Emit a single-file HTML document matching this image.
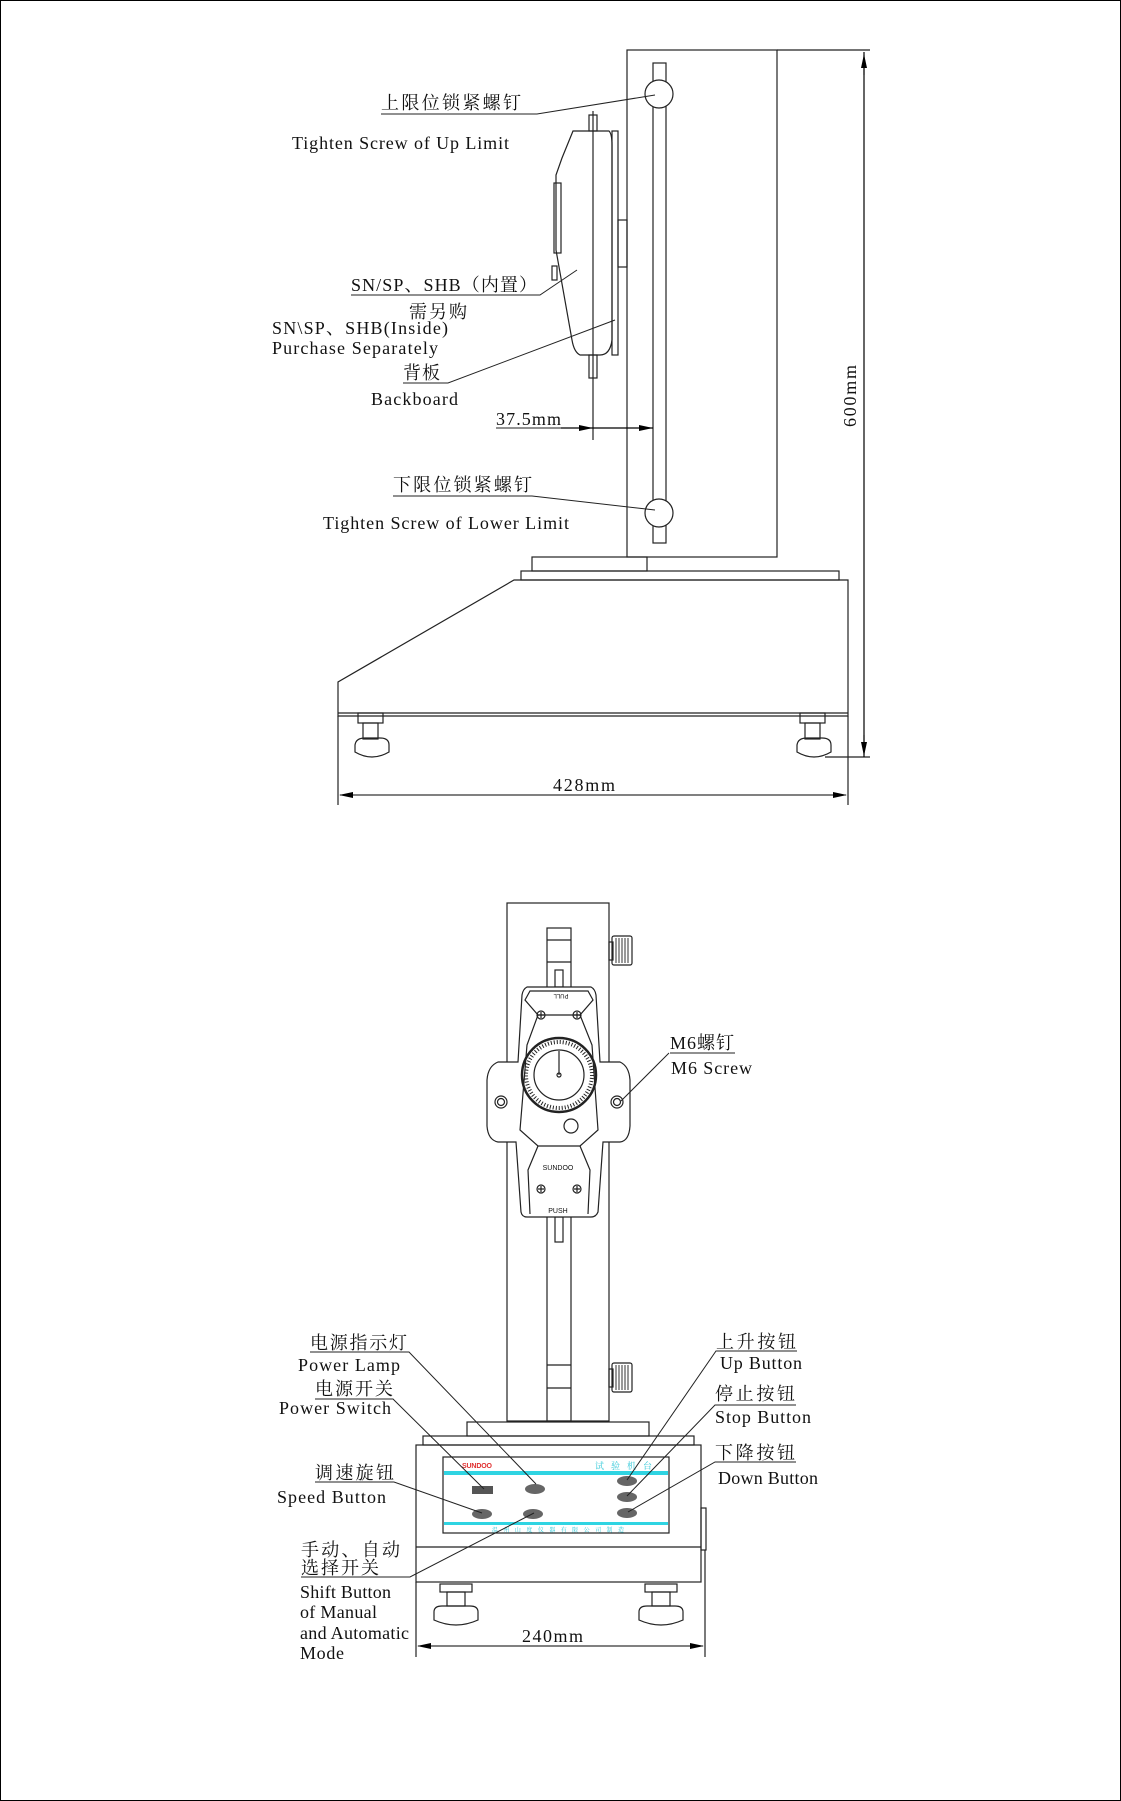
<!DOCTYPE html>
<html><head><meta charset="utf-8"><style>
html,body{margin:0;padding:0;background:#fff;}
svg{display:block;}
text{font-family:"Liberation Serif","Noto Serif CJK SC","Noto Sans CJK SC",serif;fill:#111;}
</style></head><body>
<svg width="1121" height="1801" viewBox="0 0 1121 1801" xmlns="http://www.w3.org/2000/svg">
<defs>
<marker id="ar" markerWidth="14" markerHeight="6" refX="13" refY="3" orient="auto" markerUnits="userSpaceOnUse"><path d="M0,0 L14,3 L0,6 Z" fill="#000"/></marker>
<marker id="as" markerWidth="14" markerHeight="6" refX="1" refY="3" orient="auto" markerUnits="userSpaceOnUse"><path d="M14,0 L0,3 L14,6 Z" fill="#000"/></marker>
</defs>
<rect x="0.5" y="0.5" width="1120" height="1800" fill="#fff" stroke="#000" stroke-width="1"/>
<g fill="none" stroke="#222" stroke-width="1.2">
<rect x="627" y="50" width="150" height="507"/>
<line x1="777" y1="50" x2="870" y2="50"/>
<rect x="653" y="63" width="13" height="480"/>
<circle cx="659" cy="94" r="14" fill="#fff"/>
<circle cx="659" cy="513" r="14" fill="#fff"/>
<rect x="532" y="557" width="115" height="14"/>
<rect x="521" y="571" width="318" height="9"/>
<path d="M514,580 L848,580 L848,716 L338,716 L338,682 Z"/>
<line x1="338" y1="713" x2="848" y2="713"/>
<g>
<rect x="358" y="713" width="25" height="10"/><rect x="363" y="723" width="15" height="16"/>
<path d="M355,745 Q356,738 365,738 L380,738 Q389,738 389,745 L389,752 Q372,762 355,752 Z"/>
<rect x="800" y="713" width="25" height="10"/><rect x="805" y="723" width="15" height="16"/>
<path d="M797,745 Q798,738 807,738 L822,738 Q831,738 831,745 L831,752 Q814,762 797,752 Z"/>
</g>
<line x1="825" y1="757" x2="870" y2="757"/>
<line x1="338" y1="716" x2="338" y2="805"/>
<line x1="848" y1="716" x2="848" y2="805"/>
<line x1="864" y1="52" x2="864" y2="757" stroke="#000"/>
<path d="M573,131 L609,131 Q612,134 612,145 L612,340 Q610,355 600,355 L580,355 Q574,352 572,340 L556,250 L556,175 L562,158 Z"/>
<rect x="554" y="183" width="7" height="70"/>
<rect x="552" y="266" width="5" height="14"/>
<rect x="612" y="131" width="6" height="224"/>
<rect x="618" y="220" width="9" height="47"/>
<rect x="589" y="115" width="8" height="16"/>
<rect x="589" y="355" width="8" height="23"/>
<line x1="593" y1="111" x2="593" y2="440"/>
<line x1="561" y1="428" x2="653" y2="428" stroke="#000"/>
<rect x="507" y="903" width="102" height="518"/>
<rect x="547" y="928" width="24" height="493"/>
<line x1="547" y1="940" x2="571" y2="940"/><line x1="547" y1="962" x2="571" y2="962"/>
<line x1="547" y1="1365" x2="571" y2="1365"/><line x1="547" y1="1388" x2="571" y2="1388"/>
<rect x="612" y="936" width="20" height="29" rx="2"/>
<rect x="609" y="942" width="4" height="18"/>
<rect x="612" y="1363" width="20" height="29" rx="2"/>
<rect x="609" y="1369" width="4" height="18"/>
<rect x="555" y="970" width="8" height="17" fill="#fff"/>
<rect x="555" y="1217" width="8" height="25" fill="#fff"/>
<path d="M527,987 L591,987 Q595,989 596,995 L600,1062 L620,1062 Q629,1066 630,1080 L630,1126 Q629,1141 620,1142 L603,1142 L598,1212 Q596,1217 591,1217 L527,1217 Q522,1217 521,1212 L516,1142 L498,1142 Q488,1140 487,1126 L487,1080 Q488,1066 498,1062 L518,1062 L522,995 Q523,989 527,987 Z" fill="#fff"/>
<path d="M530,991 L588,991 L593,1000 L580,1015 L538,1015 L525,1000 Z"/>
<path d="M538,1015 L527,1045 L520,1130 L538,1146 L580,1146 L598,1130 L592,1045 L580,1015"/>
<path d="M538,1146 L528,1170 L530,1214 M580,1146 L590,1170 L588,1214"/>
<circle cx="559" cy="1075" r="37" stroke-width="2.5"/>
<circle cx="559" cy="1075" r="33" stroke-dasharray="1 2" stroke-width="4"/>
<circle cx="559" cy="1075" r="25"/>
<line x1="559" y1="1075" x2="559" y2="1051"/>
<circle cx="559" cy="1075" r="2"/>
<circle cx="571" cy="1126" r="7"/>
<circle cx="501" cy="1102" r="6"/><circle cx="501" cy="1102" r="3.5"/>
<circle cx="617" cy="1102" r="6"/><circle cx="617" cy="1102" r="3.5"/>
<circle cx="541" cy="1015" r="4"/><circle cx="577" cy="1015" r="4"/>
<circle cx="541" cy="1189" r="4"/><circle cx="577" cy="1189" r="4"/>
<path d="M538,1015h6M541,1012v6M574,1015h6M577,1012v6M538,1189h6M541,1186v6M574,1189h6M577,1186v6"/>
<rect x="467" y="1422" width="182" height="14"/>
<rect x="423" y="1436" width="271" height="9"/>
<rect x="416" y="1445" width="285" height="137"/>
<line x1="416" y1="1547" x2="701" y2="1547"/>
<rect x="701" y="1508" width="5" height="42"/>
<rect x="443" y="1457" width="226" height="76"/>
<rect x="440" y="1584" width="32" height="8"/><rect x="447" y="1592" width="18" height="14"/>
<path d="M434,1612 Q434,1606 442,1606 L470,1606 Q478,1606 478,1612 L478,1620 Q456,1630 434,1620 Z"/>
<rect x="645" y="1584" width="32" height="8"/><rect x="652" y="1592" width="18" height="14"/>
<path d="M639,1612 Q639,1606 647,1606 L675,1606 Q683,1606 683,1612 L683,1620 Q661,1630 639,1620 Z"/>
<line x1="416" y1="1582" x2="416" y2="1657"/>
<line x1="705" y1="1550" x2="705" y2="1657"/>
</g>
<g stroke="#333" stroke-width="1">
<path d="M616,938v25M619,938v25M622,938v25M625,938v25M628,938v25"/>
<path d="M616,1365v25M619,1365v25M622,1365v25M625,1365v25M628,1365v25"/>
</g>
<rect x="444" y="1471" width="224" height="4" fill="#2fd4e2"/>
<rect x="444" y="1522" width="224" height="3" fill="#2fd4e2"/>
<rect x="472" y="1486" width="21" height="8" fill="#555"/>
<g fill="#666">
<ellipse cx="535" cy="1489" rx="10" ry="5"/>
<ellipse cx="482" cy="1514" rx="10" ry="5"/>
<ellipse cx="533" cy="1514" rx="10" ry="5"/>
<ellipse cx="627" cy="1481" rx="10" ry="5"/>
<ellipse cx="627" cy="1497" rx="10" ry="5"/>
<ellipse cx="627" cy="1513" rx="10" ry="5"/>
</g>
<text x="462" y="1468" font-size="7" font-weight="bold" style="fill:#e03030;font-family:'Liberation Sans',sans-serif" textLength="30">SUNDOO</text>
<text x="595" y="1469" font-size="9" style="fill:#2fc8d8" textLength="57">试验机台</text>
<text x="492" y="1532" font-size="6" style="fill:#2fc8d8" textLength="132">温州山度仪器有限公司制造</text>
<text x="561" y="998" font-size="6" text-anchor="middle" transform="rotate(180 561 996)" style="font-family:'Liberation Sans',sans-serif">PULL</text>
<text x="558" y="1170" font-size="7" text-anchor="middle" style="font-family:'Liberation Sans',sans-serif">SUNDOO</text>
<text x="558" y="1213" font-size="7" text-anchor="middle" style="font-family:'Liberation Sans',sans-serif">PUSH</text>
<g stroke="#000" stroke-width="1.1">
<line x1="864" y1="75" x2="864" y2="55" marker-end="url(#ar)"/>
<line x1="864" y1="735" x2="864" y2="755" marker-end="url(#ar)"/>
<line x1="340" y1="795" x2="846" y2="795" marker-start="url(#as)" marker-end="url(#ar)"/>
<line x1="575" y1="428" x2="592" y2="428" marker-end="url(#ar)"/>
<line x1="635" y1="428" x2="652" y2="428" marker-end="url(#ar)"/>
<line x1="418" y1="1646" x2="703" y2="1646" marker-start="url(#as)" marker-end="url(#ar)"/>
</g>
<g fill="none" stroke="#222" stroke-width="1">
<polyline points="381,114 537,114 655,95"/>
<polyline points="351,295 540,295 577,270"/>
<polyline points="403,383 448,383 615,320"/>
<polyline points="496,428 561,428"/>
<polyline points="393,496 532,496 655,510"/>
<polyline points="670,1053 735,1053"/>
<line x1="669" y1="1053" x2="621" y2="1101"/>
<polyline points="310,1352 409,1352 536,1484"/>
<polyline points="315,1399 393,1399 484,1489"/>
<polyline points="315,1482 394,1482 482,1513"/>
<polyline points="301,1577 410,1577 534,1513"/>
<polyline points="797,1351 716,1351 627,1480"/>
<polyline points="796,1405 715,1405 627,1496"/>
<polyline points="796,1462 715,1462 628,1512"/>
</g>
<g font-size="18">
<text x="381" y="109" textLength="140">上限位锁紧螺钉</text>
<text x="292" y="149" textLength="217">Tighten Screw of Up Limit</text>
<text x="351" y="291" textLength="186">SN/SP、SHB（内置）</text>
<text x="409" y="318" textLength="58">需另购</text>
<text x="272" y="334" textLength="176">SN\SP、SHB(Inside)</text>
<text x="272" y="354" textLength="166">Purchase Separately</text>
<text x="403" y="379" textLength="37">背板</text>
<text x="371" y="405" textLength="87">Backboard</text>
<text x="496" y="425" textLength="65">37.5mm</text>
<text x="393" y="491" textLength="139">下限位锁紧螺钉</text>
<text x="323" y="529" textLength="246">Tighten Screw of Lower Limit</text>
<text x="553" y="791" textLength="62">428mm</text>
<text x="0" y="0" transform="translate(856,427) rotate(-90)" textLength="62">600mm</text>
<text x="670" y="1049" textLength="64">M6螺钉</text>
<text x="671" y="1074" textLength="81">M6 Screw</text>
<text x="310" y="1349" textLength="97">电源指示灯</text>
<text x="298" y="1371" textLength="102">Power Lamp</text>
<text x="315" y="1395" textLength="78">电源开关</text>
<text x="279" y="1414" textLength="112">Power Switch</text>
<text x="315" y="1479" textLength="79">调速旋钮</text>
<text x="277" y="1503" textLength="109">Speed Button</text>
<text x="301" y="1556" textLength="99">手动、自动</text>
<text x="301" y="1574" textLength="78">选择开关</text>
<text x="300" y="1598" textLength="91">Shift Button</text>
<text x="300" y="1618" textLength="77">of Manual</text>
<text x="300" y="1639" textLength="109">and Automatic</text>
<text x="300" y="1659" textLength="44">Mode</text>
<text x="716" y="1348" textLength="80">上升按钮</text>
<text x="720" y="1369" textLength="82">Up Button</text>
<text x="715" y="1400" textLength="80">停止按钮</text>
<text x="715" y="1423" textLength="96">Stop Button</text>
<text x="715" y="1459" textLength="80">下降按钮</text>
<text x="718" y="1484" textLength="100">Down Button</text>
<text x="522" y="1642" textLength="61">240mm</text>
</g>
</svg>
</body></html>
